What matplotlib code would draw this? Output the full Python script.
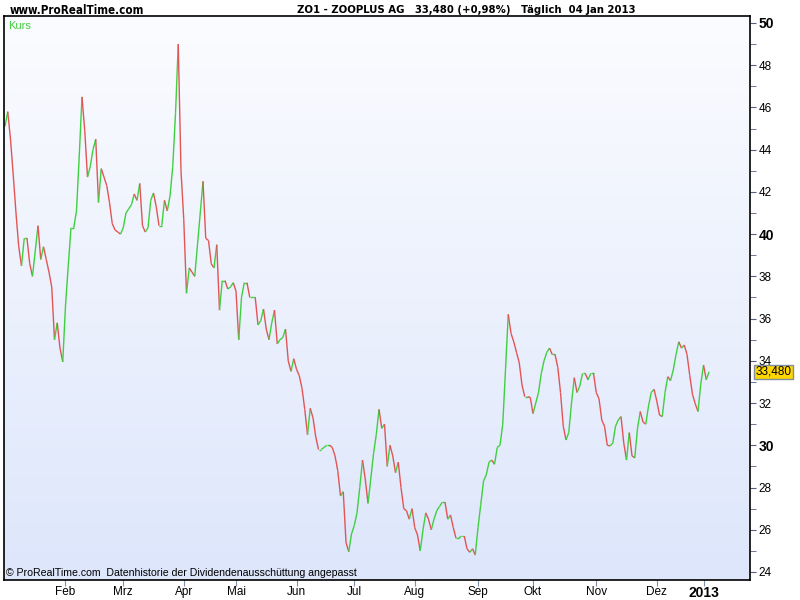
import matplotlib
matplotlib.use('Agg')
import matplotlib.pyplot as plt
from matplotlib.collections import LineCollection
from matplotlib.colors import LinearSegmentedColormap
from matplotlib import font_manager
import numpy as np
import pandas as pd

# trading calendar (Xetra), 02 Jan 2012 - 04 Jan 2013
holidays = ['2012-04-06', '2012-04-09', '2012-05-01', '2012-12-24',
            '2012-12-25', '2012-12-26', '2012-12-31', '2013-01-01']
days = pd.bdate_range('2012-01-02', '2013-01-04')
days = days[~days.isin(pd.to_datetime(holidays))]

# closing prices, one list per month
jan = [45.1, 45.8, 44.5, 42.8, 41.0, 39.4, 38.5, 39.8, 39.8, 38.6, 38.0,
       39.2, 40.4, 38.8, 39.4, 38.8, 38.2, 37.5, 35.0, 35.8, 34.6, 33.95]
feb = [36.6, 38.5, 40.3, 40.3, 41.1, 43.7, 46.5, 44.9, 42.7, 43.2, 44.0,
       44.5, 41.5, 43.1, 42.7, 42.3, 41.5, 40.5, 40.2, 40.1, 40.0]
mrz = [40.3, 41.0, 41.2, 41.4, 41.9, 41.6, 42.4, 40.4, 40.1, 40.3, 41.6,
       41.95, 41.3, 40.4, 40.4, 41.6, 41.1, 41.8, 43.2, 45.7, 49.0, 43.0]
apr = [40.7, 37.2, 38.4, 38.2, 38.0, 39.5, 41.0, 42.5, 39.8, 39.7, 38.6,
       38.4, 39.5, 36.4, 37.8, 37.8, 37.4, 37.5, 37.7]
mai = [37.3, 35.0, 37.0, 37.7, 37.7, 37.0, 37.0, 37.0, 35.7, 35.9, 36.45,
       35.5, 35.0, 35.8, 36.4, 34.8, 35.0, 35.1, 35.5, 34.0, 33.5, 34.1]
jun = [33.6, 33.3, 32.7, 31.7, 30.5, 31.75, 31.3, 30.4, 29.8, 29.8, 29.9,
       30.0, 30.0, 29.9, 29.5, 28.8, 27.6, 27.8, 25.4, 24.96, 25.8]
jul = [26.2, 26.8, 28.0, 29.3, 28.4, 27.25, 28.4, 29.6, 30.5, 31.7, 30.8,
       31.0, 29.0, 30.0, 29.5, 28.7, 29.2, 28.0, 27.0, 26.9, 26.5, 27.0]
aug = [26.1, 25.75, 25.0, 26.0, 26.8, 26.5, 26.0, 26.5, 26.9, 27.1, 27.3,
       27.3, 26.5, 26.7, 26.1, 25.6, 25.6, 25.7, 25.7, 25.1, 24.93, 25.1, 24.8]
sep = [26.1, 27.2, 28.3, 28.6, 29.2, 29.3, 29.1, 29.9, 30.0, 31.0, 33.6,
       36.2, 35.3, 34.9, 34.4, 33.9, 32.85, 32.3, 32.3, 32.27]
okt = [31.5, 32.0, 32.5, 33.4, 34.0, 34.4, 34.6, 34.3, 34.3, 33.7, 32.5,
       30.9, 30.25, 30.6, 32.0, 33.2, 32.5, 32.8, 33.4, 33.4, 33.1, 33.4, 33.4]
nov = [32.5, 32.2, 31.2, 30.9, 30.0, 29.97, 30.1, 30.9, 31.2, 31.36, 30.1,
       29.3, 30.6, 29.5, 29.4, 30.8, 31.6, 31.1, 31.0, 31.86, 32.5, 32.65]
dez = [32.1, 31.43, 31.36, 32.5, 33.25, 33.06, 33.57, 34.3, 34.9, 34.6,
       34.75, 34.3, 33.3, 32.4, 31.96, 31.6, 32.9]
jan13 = [33.8, 33.1, 33.48]

month_labels = ['Feb', 'Mrz', 'Apr', 'Mai', 'Jun', 'Jul', 'Aug', 'Sep',
                'Okt', 'Nov', 'Dez', '2013']
y_ticks = [24, 26, 28, 30, 32, 34, 36, 38, 40, 42, 44, 46, 48, 50]
bold_y = [30, 40, 50]

close = np.array(jan + feb + mrz + apr + mai + jun + jul + aug + sep
                 + okt + nov + dez + jan13)
x = np.arange(len(close))

fig = plt.figure(figsize=(8, 6), dpi=100)
ax = fig.add_axes([4 / 800, 20 / 600, 746 / 800, 564 / 600])

# soft blue gradient background
cmap = LinearSegmentedColormap.from_list('bg', ['#dde6fb', '#fbfcff'])
ax.imshow(np.linspace(0, 1, 256).reshape(-1, 1), cmap=cmap, origin='lower',
          extent=[0, 1, 0, 1], transform=ax.transAxes, aspect='auto', zorder=0)

# up / down coloured segments
segs = np.stack([np.column_stack([x[:-1], close[:-1]]),
                 np.column_stack([x[1:], close[1:]])], axis=1)
cols = np.where(close[1:] >= close[:-1], '#3fcf3f', '#e25555')
lc = LineCollection(segs, colors=cols, linewidths=1.0, zorder=2)
ax.add_collection(lc)

ax.set_xlim(-0.36, 270.9)
ax.set_ylim(23.62, 50.33)

for s in ax.spines.values():
    s.set_color('black')
    s.set_linewidth(1.2)

# y axis on the right
ax.yaxis.tick_right()
ax.set_yticks(y_ticks)
ax.set_yticks(np.arange(25, 50, 2), minor=True)
ax.tick_params(axis='y', which='both', direction='out', length=4,
               color='#55607a', labelsize=8.5, pad=2)
ax.set_yticklabels([str(v) for v in y_ticks], family='Liberation Sans')
for lab, v in zip(ax.get_yticklabels(), y_ticks):
    if v in bold_y:
        lab.set_fontweight('bold')
        lab.set_fontsize(10)

# month ticks at first trading day of each month
month_idx = [i for i in range(1, len(days)) if days[i].month != days[i - 1].month]
ax.set_xticks(month_idx)
ax.set_xticklabels(month_labels, family='Liberation Sans')
ax.tick_params(axis='x', direction='out', length=4, color='#7f8faa',
               labelsize=8.5, pad=0.5)
ax.get_xticklabels()[-1].set_fontweight('bold')
ax.get_xticklabels()[-1].set_fontsize(10)

# header font: condensed bold if there is one, else a smaller Arial-like bold
fp = font_manager.FontProperties(family='DejaVu Sans', stretch='condensed',
                                 weight='bold')
if 'Condensed' in font_manager.findfont(fp, fallback_to_default=False):
    hkw = dict(family='DejaVu Sans', fontstretch='condensed')
    hsize = (8.3, 8.1)
else:
    hkw = dict(family='Liberation Sans')
    hsize = (8.6, 8.0)

fig.text(10 / 800, 1 - 10 / 600, 'www.ProRealTime.com', fontweight='bold',
         fontsize=hsize[0], va='center', ha='left', **hkw)
fig.text(297 / 800, 1 - 10 / 600,
         'ZO1 - ZOOPLUS AG   33,480 (+0,98%)   Täglich  04 Jan 2013',
         fontweight='bold', fontsize=hsize[1], va='center', ha='left', **hkw)
ax.text(0.005, 0.992, 'Kurs', transform=ax.transAxes, color='#3fcf3f',
        fontsize=8, family='Liberation Sans', va='top', ha='left')
ax.text(0.003, 0.004,
        '© ProRealTime.com  Datenhistorie der Dividendenausschüttung angepasst',
        transform=ax.transAxes, fontsize=7.6, family='Liberation Sans',
        va='bottom', ha='left')

# last price tag
ax.annotate('33,480', xy=(1, close[-1]), xycoords=('axes fraction', 'data'),
            xytext=(4, 0), textcoords='offset points', fontsize=8.5,
            family='Liberation Sans', va='center', ha='left',
            bbox=dict(boxstyle='square,pad=0.1', fc='#ffd700', ec='#7f8fa0', lw=1),
            annotation_clip=False)

fig.savefig('out.png', dpi=100)
